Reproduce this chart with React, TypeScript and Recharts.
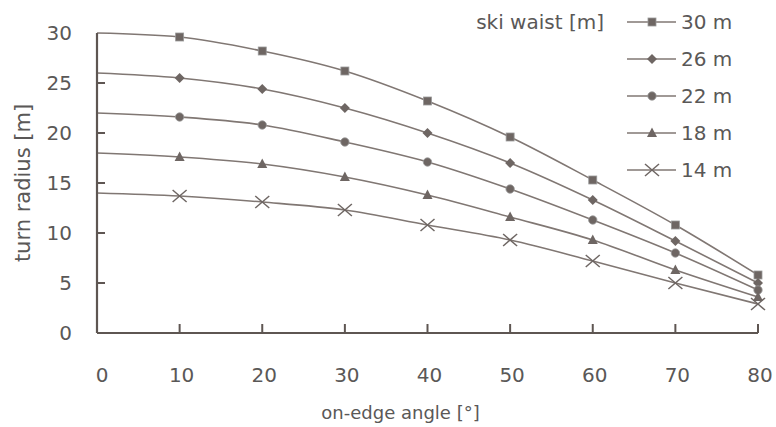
import React from "react";
import { LineChart, Line, XAxis, YAxis } from "recharts";

const angles = [0, 10, 20, 30, 40, 50, 60, 70, 80];
const r30 = [30, 29.6, 28.2, 26.2, 23.2, 19.6, 15.3, 10.8, 5.8];
const r26 = [26, 25.5, 24.4, 22.5, 20.0, 17.0, 13.3, 9.2, 5.0];
const r22 = [22, 21.6, 20.8, 19.1, 17.1, 14.4, 11.3, 8.0, 4.3];
const r18 = [18, 17.6, 16.9, 15.6, 13.8, 11.6, 9.3, 6.3, 3.6];
const r14 = [14, 13.7, 13.1, 12.3, 10.8, 9.3, 7.2, 5.0, 2.9];
const xTicks = [0, 10, 20, 30, 40, 50, 60, 70, 80];
const yTicks = [0, 5, 10, 15, 20, 25, 30];
const seriesNames = ["30 m", "26 m", "22 m", "18 m", "14 m"];
const seriesKeys = ["r30", "r26", "r22", "r18", "r14"];
const shapes = ["square", "diamond", "circle", "triangle", "cross"];

const data = angles.map((a, i) => ({
  angle: a,
  r30: r30[i],
  r26: r26[i],
  r22: r22[i],
  r18: r18[i],
  r14: r14[i],
}));

const LINE = "#807773";
const AXIS = "#5e5652";
const TEXT = "#5a5857";
const MARK = "#6e6663";
const FONT = "'DejaVu Sans', sans-serif";

const PLOT_LEFT = 97;
const PLOT_BOTTOM = 333;

function Marker({ cx, cy, shape }: { cx: number; cy: number; shape: string }) {
  if (shape === "square")
    return <rect x={cx - 4} y={cy - 4} width={8} height={8} fill={MARK} stroke="#999" strokeWidth={0.8} />;
  if (shape === "diamond")
    return <polygon points={`${cx},${cy - 5} ${cx + 5},${cy} ${cx},${cy + 5} ${cx - 5},${cy}`} fill={MARK} />;
  if (shape === "circle") return <circle cx={cx} cy={cy} r={4.2} fill={MARK} stroke="#999" strokeWidth={0.8} />;
  if (shape === "triangle")
    return <polygon points={`${cx},${cy - 5.5} ${cx + 5},${cy + 4} ${cx - 5},${cy + 4}`} fill={MARK} />;
  return (
    <g stroke={MARK} strokeWidth={1.5}>
      <line x1={cx - 7} y1={cy - 6} x2={cx + 7} y2={cy + 6} />
      <line x1={cx - 7} y1={cy + 6} x2={cx + 7} y2={cy - 6} />
    </g>
  );
}

const makeDot = (shape: string) => (props: any) => {
  const { cx, cy, index } = props;
  if (index === 0 || cx == null || cy == null) return <g key={`e-${shape}-${index}`} />;
  return (
    <g key={`d-${shape}-${index}`}>
      <Marker cx={cx} cy={cy} shape={shape} />
    </g>
  );
};

const YTick = (props: any) => {
  const { y, payload } = props;
  const v = payload.value;
  return (
    <g>
      {v !== 0 && v !== 30 && (
        <line x1={PLOT_LEFT} y1={y} x2={PLOT_LEFT + 8} y2={y} stroke={AXIS} strokeWidth={2} />
      )}
      <text x={72} y={y} dy={7} textAnchor="end" fill={TEXT} fontSize={20} fontFamily={FONT}>
        {v}
      </text>
    </g>
  );
};

const XTick = (props: any) => {
  const { x, payload } = props;
  const v = payload.value;
  return (
    <g>
      {v !== 0 && <line x1={x} y1={PLOT_BOTTOM} x2={x} y2={PLOT_BOTTOM - 9} stroke={AXIS} strokeWidth={2} />}
      <text x={v === 0 ? x + 5 : x + 2} y={382} textAnchor="middle" fill={TEXT} fontSize={20} fontFamily={FONT}>
        {v}
      </text>
    </g>
  );
};

const LegendOverlay = () => {
  const rowY = [22, 59, 96, 133, 170];
  return (
    <svg width={776} height={200} style={{ position: "absolute", left: 0, top: 0, pointerEvents: "none" }}>
      <text x={604} y={22} dy={7} textAnchor="end" fill={TEXT} fontSize={20} fontFamily={FONT}>
        ski waist [m]
      </text>
      {seriesNames.map((n, i) => (
        <g key={n}>
          <line x1={627} y1={rowY[i]} x2={676} y2={rowY[i]} stroke={LINE} strokeWidth={1.6} />
          <Marker cx={652} cy={rowY[i]} shape={shapes[i]} />
          <text x={681} y={rowY[i]} dy={7} fill={TEXT} fontSize={20} fontFamily={FONT}>
            {n}
          </text>
        </g>
      ))}
    </svg>
  );
};

export default function App() {
  return (
    <div style={{ position: "absolute", left: 0, top: 0, width: 776, height: 427, background: "#fff" }}>
      <LineChart width={776} height={427} data={data} margin={{ top: 33, right: 18, bottom: 34, left: 0 }}>
        <XAxis
          dataKey="angle"
          type="number"
          domain={[0, 80]}
          ticks={xTicks}
          interval={0}
          axisLine={{ stroke: AXIS, strokeWidth: 2.2 }}
          tickLine={false}
          tick={<XTick />}
          height={60}
          label={{
            value: "on-edge angle [°]",
            position: "insideBottom",
            dx: -27,
            offset: -26,
            fill: TEXT,
            fontSize: 18,
            fontFamily: FONT,
          }}
        />
        <YAxis
          type="number"
          domain={[0, 30]}
          ticks={yTicks}
          interval={0}
          width={97}
          axisLine={{ stroke: AXIS, strokeWidth: 2.2 }}
          tickLine={false}
          tick={<YTick />}
          label={{
            value: "turn radius [m]",
            angle: -90,
            position: "insideLeft",
            dx: 18,
            dy: 0,
            fill: TEXT,
            fontSize: 21,
            fontFamily: FONT,
            style: { textAnchor: "middle" },
          }}
        />
        {seriesKeys.map((k, i) => (
          <Line
            key={k}
            dataKey={k}
            name={seriesNames[i]}
            type="monotone"
            stroke={LINE}
            strokeWidth={1.6}
            dot={makeDot(shapes[i])}
            activeDot={false}
            isAnimationActive={false}
          />
        ))}
      </LineChart>
      <LegendOverlay />
    </div>
  );
}
